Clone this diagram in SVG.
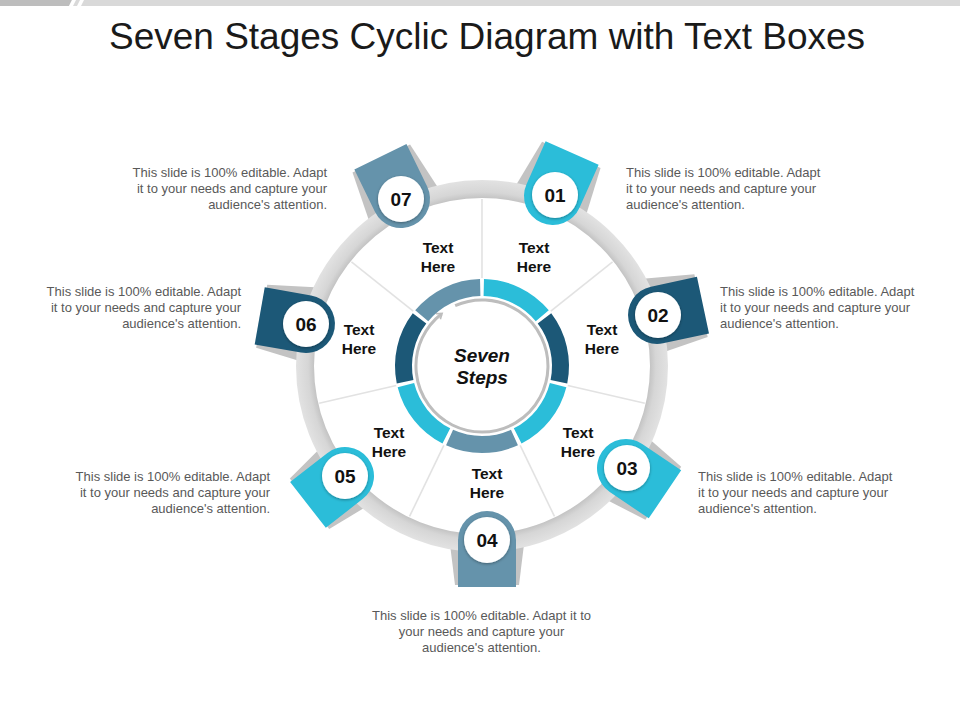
<svg xmlns="http://www.w3.org/2000/svg" width="960" height="720" viewBox="0 0 960 720">
<style>
.title{font-family:"Liberation Sans",Arial,sans-serif;font-size:37px;fill:#1a1a1a;text-anchor:middle}
.desc{font-family:"Liberation Sans",Arial,sans-serif;font-size:13px;fill:#595959}
.lbl{font-family:"Liberation Sans",Arial,sans-serif;font-size:15.5px;font-weight:bold;fill:#111;text-anchor:middle}
.num{font-family:"Liberation Sans",Arial,sans-serif;font-size:19px;font-weight:bold;fill:#111;text-anchor:middle}
.ctr{font-family:"Liberation Sans",Arial,sans-serif;font-size:19px;font-weight:bold;font-style:italic;fill:#111;text-anchor:middle}
.fold{fill:#c3c3c3}
.spoke{stroke:#e2e2e2;stroke-width:1.6;fill:none}
.seg{fill:none;stroke-width:17}
.cyan{fill:#2bbdd9}.navy{fill:#1c5877}.steel{fill:#6593ab}
.scyan{stroke:#2bbdd9}.snavy{stroke:#1c5877}.ssteel{stroke:#6593ab}
.disc{fill:#fff;filter:url(#sh)}
</style>
<defs>
<radialGradient id="ringG" gradientUnits="userSpaceOnUse" cx="482" cy="366" r="186">
<stop offset="0.9" stop-color="#c2c2c2"/>
<stop offset="0.935" stop-color="#d6d6d6"/>
<stop offset="1" stop-color="#e2e2e2"/>
</radialGradient>
<filter id="sh" x="-30%" y="-30%" width="160%" height="160%">
<feDropShadow dx="0" dy="1" stdDeviation="1.5" flood-color="#000" flood-opacity="0.35"/>
</filter>
<marker id="arr" markerWidth="10" markerHeight="10" refX="5" refY="5" orient="auto" markerUnits="userSpaceOnUse">
<path d="M1,1.5 L6,5 L1,8.5" fill="none" stroke="#bdbdbd" stroke-width="1.6"/>
</marker>
<path id="tab" d="M-29,-47 L29,-47 L29,0 A29,29 0 0 1 -29,0 Z"/>
<path id="foldshape" d="M-39,12 L39,12 L32,-45 L-32,-45 Z"/>
</defs>

<!-- top bar -->
<rect x="0" y="0" width="960" height="6" fill="#d9d9d9"/>
<polygon points="0,0 72,0 69,6 0,6" fill="#bdbdbd"/>
<polygon points="69,6 72,0 76,0 73,6" fill="#fff"/>
<polygon points="77,6 80,0 84,0 81,6" fill="#fff"/>

<text class="title" x="487" y="49">Seven Stages Cyclic Diagram with Text Boxes</text>

<!-- folds behind ring -->
<g id="folds">
<use href="#foldshape" class="fold" transform="translate(553,196) rotate(24)"/>
<use href="#foldshape" class="fold" transform="translate(657,315) rotate(78)"/>
<use href="#foldshape" class="fold" transform="translate(626,468) rotate(124)"/>
<use href="#foldshape" class="fold" transform="translate(487,540) rotate(180)"/>
<use href="#foldshape" class="fold" transform="translate(345,476) rotate(232)"/>
<use href="#foldshape" class="fold" transform="translate(306,324) rotate(280)"/>
<use href="#foldshape" class="fold" transform="translate(401,199) rotate(334)"/>
</g>

<!-- ring -->
<g id="ring">
<circle cx="482" cy="366" r="177" fill="#fff" stroke="url(#ringG)" stroke-width="18"/>
</g>

<!-- connectors: spokes, segmented inner ring, arrow circle -->
<g id="connectors">
<line class="spoke" x1="482" y1="278" x2="482" y2="199"/>
<line class="spoke" x1="550.8" y1="311.13" x2="612.57" y2="261.88"/>
<line class="spoke" x1="567.79" y1="385.58" x2="644.81" y2="403.16"/>
<line class="spoke" x1="520.18" y1="445.29" x2="554.46" y2="516.46"/>
<line class="spoke" x1="443.82" y1="445.29" x2="409.54" y2="516.46"/>
<line class="spoke" x1="396.21" y1="385.58" x2="319.19" y2="403.16"/>
<line class="spoke" x1="413.2" y1="311.13" x2="351.43" y2="261.88"/>
<path class="seg scyan" d="M483.78,287.52 A78.5,78.5 0 0 1 542.27,315.71"/>
<path class="seg snavy" d="M544.47,318.46 A78.5,78.5 0 0 1 558.91,381.73"/>
<path class="seg scyan" d="M558.11,385.2 A78.5,78.5 0 0 1 517.65,435.94"/>
<path class="seg ssteel" d="M514.44,437.48 A78.5,78.5 0 0 1 449.56,437.48"/>
<path class="seg scyan" d="M446.35,435.94 A78.5,78.5 0 0 1 405.89,385.2"/>
<path class="seg snavy" d="M405.09,381.73 A78.5,78.5 0 0 1 419.53,318.46"/>
<path class="seg ssteel" d="M421.73,315.71 A78.5,78.5 0 0 1 480.22,287.52"/>
<path d="M455.16,305.71 A66,66 0 1 1 441.36,313.99" fill="none" stroke="#bdbdbd" stroke-width="3" marker-end="url(#arr)"/>
</g>

<g id="center">
<text class="ctr" x="482" y="361.5">Seven</text>
<text class="ctr" x="482" y="383.5">Steps</text>
</g>

<!-- inner labels -->
<g id="labels">
<text class="lbl" x="534" y="253">Text</text><text class="lbl" x="534" y="272">Here</text>
<text class="lbl" x="602" y="335">Text</text><text class="lbl" x="602" y="354">Here</text>
<text class="lbl" x="578" y="438">Text</text><text class="lbl" x="578" y="457">Here</text>
<text class="lbl" x="487" y="479">Text</text><text class="lbl" x="487" y="498">Here</text>
<text class="lbl" x="389" y="438">Text</text><text class="lbl" x="389" y="457">Here</text>
<text class="lbl" x="359" y="335">Text</text><text class="lbl" x="359" y="354">Here</text>
<text class="lbl" x="438" y="253">Text</text><text class="lbl" x="438" y="272">Here</text>
</g>

<!-- nodes -->
<g id="step-01">
<use href="#tab" class="cyan" transform="translate(553,196) rotate(24)"/>
<circle class="disc" cx="555" cy="195" r="23"/>
<text class="num" x="555" y="202">01</text>
<text class="desc" x="626" y="177">This slide is 100% editable. Adapt</text>
<text class="desc" x="626" y="193">it to your needs and capture your</text>
<text class="desc" x="626" y="208.5">audience's attention.</text>
</g>
<g id="step-02">
<use href="#tab" class="navy" transform="translate(657,315) rotate(78)"/>
<circle class="disc" cx="658" cy="315" r="23"/>
<text class="num" x="658" y="322">02</text>
<text class="desc" x="720" y="296">This slide is 100% editable. Adapt</text>
<text class="desc" x="720" y="312">it to your needs and capture your</text>
<text class="desc" x="720" y="327.5">audience's attention.</text>
</g>
<g id="step-03">
<use href="#tab" class="cyan" transform="translate(626,468) rotate(124)"/>
<circle class="disc" cx="627" cy="468" r="23"/>
<text class="num" x="627" y="475">03</text>
<text class="desc" x="698" y="481">This slide is 100% editable. Adapt</text>
<text class="desc" x="698" y="497">it to your needs and capture your</text>
<text class="desc" x="698" y="512.5">audience's attention.</text>
</g>
<g id="step-04">
<use href="#tab" class="steel" transform="translate(487,540) rotate(180)"/>
<circle class="disc" cx="487" cy="540" r="23"/>
<text class="num" x="487" y="547">04</text>
<text class="desc" x="481.5" y="620" text-anchor="middle">This slide is 100% editable. Adapt it to</text>
<text class="desc" x="481.5" y="636" text-anchor="middle">your needs and capture your</text>
<text class="desc" x="481.5" y="651.5" text-anchor="middle">audience's attention.</text>
</g>
<g id="step-05">
<use href="#tab" class="cyan" transform="translate(345,476) rotate(232)"/>
<circle class="disc" cx="345" cy="476" r="23"/>
<text class="num" x="345" y="483">05</text>
<text class="desc" x="270" y="481" text-anchor="end">This slide is 100% editable. Adapt</text>
<text class="desc" x="270" y="497" text-anchor="end">it to your needs and capture your</text>
<text class="desc" x="270" y="512.5" text-anchor="end">audience's attention.</text>
</g>
<g id="step-06">
<use href="#tab" class="navy" transform="translate(306,324) rotate(280)"/>
<circle class="disc" cx="306" cy="324" r="23"/>
<text class="num" x="306" y="331">06</text>
<text class="desc" x="241" y="296" text-anchor="end">This slide is 100% editable. Adapt</text>
<text class="desc" x="241" y="312" text-anchor="end">it to your needs and capture your</text>
<text class="desc" x="241" y="327.5" text-anchor="end">audience's attention.</text>
</g>
<g id="step-07">
<use href="#tab" class="steel" transform="translate(401,199) rotate(334)"/>
<circle class="disc" cx="401" cy="199" r="23"/>
<text class="num" x="401" y="206">07</text>
<text class="desc" x="327" y="177" text-anchor="end">This slide is 100% editable. Adapt</text>
<text class="desc" x="327" y="193" text-anchor="end">it to your needs and capture your</text>
<text class="desc" x="327" y="208.5" text-anchor="end">audience's attention.</text>
</g>
</svg>
